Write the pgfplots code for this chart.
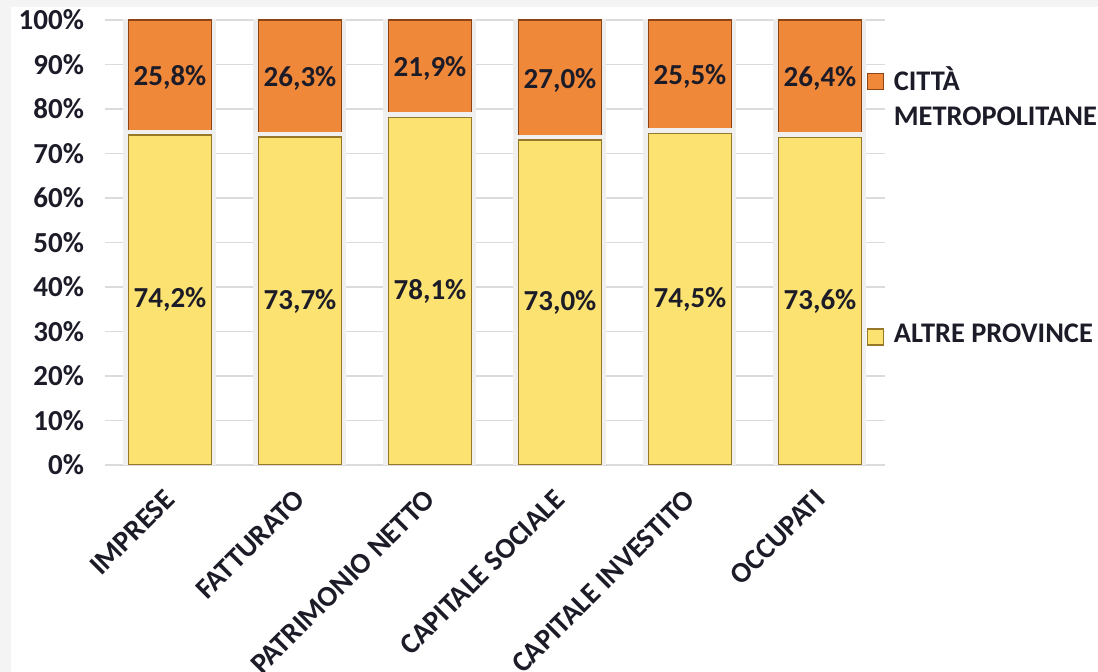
\documentclass[border=0pt]{standalone}
\usepackage{pgfplots}
\pgfplotsset{compat=1.18}
\usepackage{pgfplotstable}
\usepackage{fontspec}
\setmainfont{Carlito}

\definecolor{txt}{RGB}{28,28,40}
\definecolor{gold}{RGB}{252,226,112}
\definecolor{goldedge}{RGB}{150,120,40}
\definecolor{org}{RGB}{240,136,58}
\definecolor{orgedge}{RGB}{140,68,20}
\definecolor{bgframe}{RGB}{244,244,244}

\makeatletter
\tikzset{no preaction/.code={\let\tikz@preactions\pgfutil@empty}}
\makeatother

% quota per gruppo di province
\pgfplotstableread{
x  altre citta
0  74.2  25.8
1  73.7  26.3
2  78.1  21.9
3  73.0  27.0
4  74.5  25.5
5  73.6  26.4
}\quote

\newcommand\lbl{\fontsize{14.5}{18}\selectfont\bfseries}
\newcommand\leglbl{\fontsize{14.2}{17.5}\selectfont\bfseries}

\begin{document}
\begin{tikzpicture}
\fill[bgframe] (-52.5pt,-103.5pt) rectangle (496.5pt,232.5pt);
\fill[white] (-47pt,-103.5pt) rectangle (496.5pt,229pt);
\begin{axis}[
  at={(0pt,0pt)}, anchor=south west,
  scale only axis, width=390pt, height=222.5pt,
  ybar stacked, bar width=41.5pt,
  xmin=-0.5, xmax=5.5, ymin=0, ymax=100,
  axis line style={draw=none},
  major tick length=0pt,
  ymajorgrids, grid style={draw=black!14, line width=0.7pt},
  ytick={0,10,...,100},
  yticklabels={0\%,10\%,20\%,30\%,40\%,50\%,60\%,70\%,80\%,90\%,100\%},
  xtick=data,
  xticklabels={IMPRESE,FATTURATO,PATRIMONIO NETTO,CAPITALE SOCIALE,CAPITALE INVESTITO,OCCUPATI},
  tick label style={font=\lbl, text=txt},
  yticklabel style={xshift=-7pt},
  x tick label style={rotate=45, anchor=north east, inner sep=1pt, yshift=-4.5pt, xshift=-9.4pt},
  point meta=explicit,
  nodes near coords={\pgfmathprintnumber[fixed,fixed zerofill,precision=1,use comma,assume math mode=true]{\pgfplotspointmeta}\%},
  every node near coord/.append style={font=\lbl, text=txt, anchor=center},
  reverse legend,
  legend style={at={(rel axis cs:0.976,0.907)}, anchor=north west, draw=none, fill=none,
    inner sep=0pt, font=\leglbl, text=txt, cells={anchor=west}, row sep=111.5pt,
    /tikz/every odd column/.append style={column sep=3pt}},
]
\addplot[fill=gold, draw=goldedge, line width=0.8pt,
  preaction={draw=black!6, line width=5pt},
  legend image code/.code={\draw[no preaction,fill=gold,draw=goldedge,line width=0.6pt] (0pt,-5pt) rectangle (8pt,3pt);}]
  table[x=x, y=altre, meta=altre] {\quote};
\addlegendentry{ALTRE PROVINCE}
\addplot[fill=org, draw=orgedge, line width=0.8pt,
  preaction={draw=black!7, line width=5pt, transform canvas={yshift=2.5pt}},
  legend image code/.code={\draw[no preaction,fill=org,draw=orgedge,line width=0.6pt] (0pt,-5pt) rectangle (8pt,3pt);}]
  table[x=x, y=citta, meta=citta] {\quote};
\addlegendentry{\begin{tabular}[t]{@{}l@{}}CITTÀ\\METROPOLITANE\end{tabular}}
\end{axis}
\pgfresetboundingbox
\useasboundingbox (-52.5pt,-103.5pt) rectangle (496.5pt,232.5pt);
\end{tikzpicture}
\end{document}
